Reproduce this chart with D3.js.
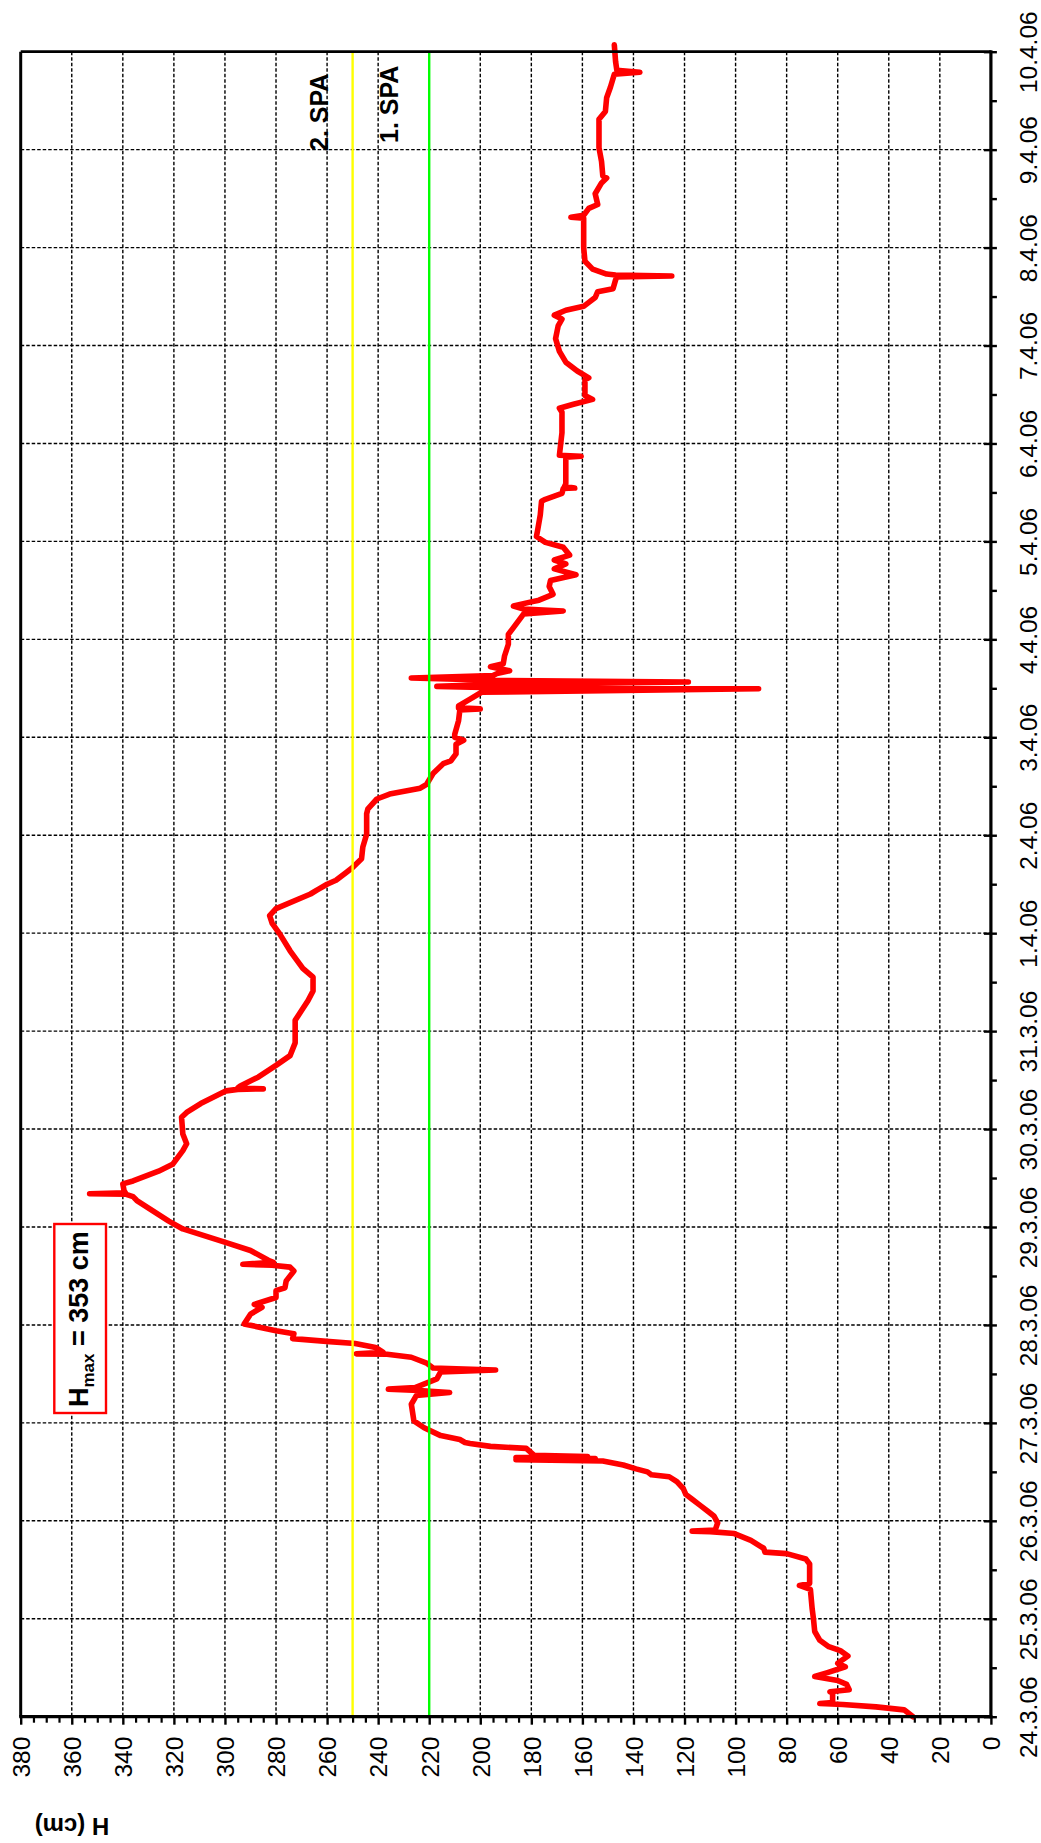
<!DOCTYPE html>
<html><head><meta charset="utf-8">
<script src="https://cdn.jsdelivr.net/npm/d3@7"></script>
<style>html,body{margin:0;padding:0;background:#fff;} svg{display:block;}</style>
</head><body>
<svg id="chart" width="1041" height="1843"></svg>
<script>
// ---- data ----
const dateLabels = ["24.3.06","25.3.06","26.3.06","27.3.06","28.3.06","29.3.06","30.3.06","31.3.06",
  "1.4.06","2.4.06","3.4.06","4.4.06","5.4.06","6.4.06","7.4.06","8.4.06","9.4.06","10.4.06"];
const dayTicks = [0,1,2,3,4,5,6,7,8,9,10,11,12,13,14,15,16,17];
const hTicks = [0,20,40,60,80,100,120,140,160,180,200,220,240,260,280,300,320,340,360,380];
const thresholdNames = ["1. SPA","2. SPA"];
const thresholdH = [220, 250];
const hMaxLabel = 353;
// time in days since 24.3.06 00:00
const levelDays = [0.00,0.07,0.10,0.125,0.135,0.145,0.24,0.255,0.275,0.33,0.37,0.41,0.45,0.51,0.545,0.62,0.675,0.715,0.78,0.87,
  1.00,1.10,1.30,1.34,1.36,1.45,1.56,1.61,1.665,1.68,1.72,1.80,1.87,1.89,1.895,1.905,1.98,
  2.05,2.10,2.16,2.22,2.27,2.33,2.40,2.45,2.47,2.50,2.53,2.57,2.61,2.625,2.635,2.645,2.655,2.67,2.74,2.76,2.79,2.80,2.83,2.87,2.95,
  3.02,3.19,3.28,3.31,3.33,3.345,3.36,3.45,3.52,3.54,3.56,3.61,3.67,3.70,3.705,3.72,3.77,3.81,3.83,3.86,3.91,3.94,3.98,
  4.01,4.11,4.18,4.21,4.28,4.35,4.38,4.45,4.55,4.59,4.61,4.62,4.64,4.66,4.76,4.84,4.98,
  5.06,5.27,5.31,5.335,5.34,5.35,5.37,5.44,5.47,5.57,5.64,5.78,5.85,5.95,
  6.12,6.17,6.26,6.39,6.405,6.41,6.42,6.44,6.53,6.65,6.75,6.88,
  7.11,7.21,7.31,7.41,7.55,7.64,7.82,7.99,
  8.10,8.18,8.25,8.40,8.44,8.50,8.54,8.62,8.67,8.76,8.88,
  9.01,9.22,9.27,9.37,9.42,9.48,9.52,9.63,9.73,9.76,9.83,9.93,9.97,
  10.00,10.03,10.17,10.28,10.29,10.30,10.32,10.39,10.46,10.495,10.51,10.52,10.535,10.565,10.58,10.605,10.63,10.65,10.68,10.72,10.75,10.83,10.95,
  11.05,11.12,11.26,11.29,11.31,11.34,11.38,11.40,11.46,11.54,11.60,11.66,11.72,11.77,11.81,11.86,11.94,11.99,
  12.05,12.12,12.27,12.41,12.43,12.49,12.54,12.545,12.56,12.59,12.86,12.87,12.88,
  13.11,13.32,13.36,13.40,13.45,13.49,13.65,13.67,13.74,13.83,13.94,
  14.07,14.20,14.27,14.31,14.36,14.40,14.49,14.55,14.58,14.67,14.70,14.71,14.72,14.73,14.78,14.86,
  15.00,15.30,15.31,15.33,15.40,15.44,15.55,15.66,15.71,15.73,15.88,
  16.02,16.31,16.39,16.53,16.64,16.77,16.79,16.81,16.90,17.07];
const levelH = [30.5,34,45,58,67,62,62,63,55.5,56.5,60,69,64,57,60,56,59,63.5,67,69,
  69.5,70,70.7,75,71,71,71,72.5,80,88.5,89,94,100.5,110,117,108,107,
  108.5,111,114,117,119.5,120.5,123,126,133,134.5,139,144,152,186,155,186,158,179,182,196,204,206,208,215.5,222,
  226,227,225,212,224,236,225.5,217,215.5,194,218.5,221,227,236.5,248.5,238,241,249,259,273.5,273,280,287,
  292.5,290,285.5,288.5,280,280,276.5,276,273,274.5,281.5,293,281,283,290,299.5,316.5,
  322,334.5,336,339,353,339,339.5,340,336,326,320.5,316.5,315,316.5,
  317,315,309.5,299.5,295,285,295,294,287,280,274.5,272.5,
  272.5,270,267.5,265.5,265.5,269.5,274.5,278.5,
  281.5,282.5,280,266.5,264,260,256.5,252.5,250,246.5,246,
  244.5,244.5,244,240.5,235.5,223.5,221,218.5,214.5,211.5,209.5,209.5,206.5,
  210,210,208.5,208,200,208.5,208.5,204,199.5,91,199,217,199,118.5,192,227,195,193.5,188.5,196,191,190.5,189,
  189,187,183,167.5,183,187,180.5,177,171.5,173,172.5,162.5,171,166.5,171,165,167.5,174.5,
  178,177.5,176.5,176,174.5,168,167.5,163,167,166.5,166.5,160.5,169,
  168,168,169,163.5,156,159,159,157.5,162,166.5,169,
  170.5,169.5,168,171,166.5,159.5,155,154,148,147,146.5,125,147,150.5,156,159,
  159.5,159.5,164.5,159.5,157.5,154,155,152.5,150.5,152,152.5,
  153.5,153.5,151,150.5,149,147.5,137.5,146.5,147,147.5];

// ---- layout ----
const svg = d3.select("#chart");
const FONT = "'Liberation Sans', Arial, Helvetica, sans-serif";
const pL = 20.7, pR = 990.9, pT = 51.7, pB = 1716.7;

const x = d3.scaleLinear().domain([0, 380]).range([pR, pL]);  // H (cm)
const y = d3.scaleLinear().domain([0, 17]).range([pB, pT]);    // days

svg.append("rect").attr("width",1041).attr("height",1843).attr("fill","#fff");

// grid
const grid = svg.append("g").attr("stroke","#000").attr("stroke-width",1.4).attr("stroke-dasharray","3.5,2");
grid.selectAll("line.v").data(hTicks.filter(d => d > 0 && d < 380)).join("line").attr("class","v")
  .attr("x1", d => x(d)).attr("x2", d => x(d)).attr("y1", pT).attr("y2", pB);
grid.selectAll("line.h").data(dayTicks.filter(d => d > 0 && d < 17)).join("line").attr("class","h")
  .attr("y1", d => y(d)).attr("y2", d => y(d)).attr("x1", pL).attr("x2", pR);

// data line
const line = d3.line().x((d,i) => x(levelH[i])).y((d,i) => y(levelDays[i])).curve(d3.curveLinear);
svg.append("path").datum(levelDays).attr("d", line)
  .attr("fill","none").attr("stroke","#ff0000").attr("stroke-width",5.6)
  .attr("stroke-linejoin","round").attr("stroke-linecap","round");

// threshold lines
const thrColors = ["#00ff00", "#ffff00"];
svg.selectAll("line.thr").data(thresholdH).join("line").attr("class","thr")
  .attr("x1", d => x(d)).attr("x2", d => x(d)).attr("y1", pT).attr("y2", pB)
  .attr("stroke", (d,i) => thrColors[i]).attr("stroke-width", 2.4);

// threshold labels
const thrLabelOffset = [31, 25];
const thrLabelY = [143, 151];
svg.selectAll("text.thr").data(thresholdH).join("text").attr("class","thr")
  .attr("transform", (d,i) => `translate(${x(d) - thrLabelOffset[i]},${thrLabelY[i]}) rotate(-90)`)
  .attr("font-family", FONT).attr("font-weight","bold").attr("font-size", 25)
  .attr("fill","#000").text((d,i) => thresholdNames[i]);

// frame
const frame = svg.append("g").attr("stroke","#000");
frame.append("line").attr("x1",pL).attr("x2",pR).attr("y1",pT).attr("y2",pT).attr("stroke-width",2.8);
frame.append("line").attr("x1",pL).attr("x2",pL).attr("y1",pT).attr("y2",pB).attr("stroke-width",3);
frame.append("line").attr("x1",pL-1.5).attr("x2",pR+1.5).attr("y1",pB).attr("y2",pB).attr("stroke-width",3.2);
frame.append("line").attr("x1",pR).attr("x2",pR).attr("y1",pT-1.4).attr("y2",pB+1.6).attr("stroke-width",3.2);

// bottom axis (H)
const minorH = d3.range(0, 381, 5).filter(d => d % 20 !== 0);
svg.append("g").attr("transform",`translate(0,${pB})`)
  .call(d3.axisBottom(x).tickValues(minorH).tickSize(6).tickSizeOuter(0).tickFormat(""))
  .call(g => g.select(".domain").remove())
  .call(g => g.selectAll(".tick line").attr("stroke","#000").attr("stroke-width",2.2));
const gx = svg.append("g").attr("transform",`translate(0,${pB})`)
  .call(d3.axisBottom(x).tickValues(hTicks).tickSize(8).tickSizeOuter(0).tickFormat(d3.format("d")));
gx.select(".domain").remove();
gx.selectAll(".tick line").attr("stroke","#000").attr("stroke-width",2.4);
gx.selectAll(".tick text").attr("x",0).attr("y",0).attr("dy","0.36em")
  .attr("text-anchor","end").attr("transform","translate(0,20) rotate(-90)")
  .attr("font-family",FONT).attr("font-size",24.5).attr("fill","#000");
gx.attr("font-family",null).attr("font-size",null);

// right axis (dates)
const halfDays = dayTicks.slice(0,-1).map(d => d + 0.5);
svg.append("g").attr("transform",`translate(${pR},0)`)
  .call(d3.axisRight(y).tickValues(halfDays).tickSize(6).tickSizeOuter(0).tickFormat(""))
  .call(g => g.select(".domain").remove())
  .call(g => g.selectAll(".tick line").attr("stroke","#000").attr("stroke-width",2.4));
const gy = svg.append("g").attr("transform",`translate(${pR},0)`)
  .call(d3.axisRight(y).tickValues(dayTicks).tickSize(6).tickSizeOuter(0).tickFormat(d => dateLabels[d]));
gy.select(".domain").remove();
gy.selectAll(".tick line").attr("x1",-7).attr("x2",6).attr("stroke","#000").attr("stroke-width",2.4);
gy.selectAll(".tick text").attr("x",0).attr("y",0).attr("dy",0)
  .attr("text-anchor","middle").attr("transform","translate(46,0) rotate(-90)")
  .attr("font-family",FONT).attr("font-size",24.5).attr("fill","#000");
gy.attr("font-family",null).attr("font-size",null);

// axis title (upside down)
svg.append("text").attr("transform","translate(72,1818) rotate(180)")
  .attr("text-anchor","middle").attr("font-family",FONT).attr("font-weight","bold")
  .attr("font-size",24).attr("fill","#000").text("H (cm)");

// Hmax box
svg.append("rect").attr("x",54.3).attr("y",1224).attr("width",51.7).attr("height",189)
  .attr("fill","#fff").attr("stroke","#ff0000").attr("stroke-width",2.4);
const hm = svg.append("text").attr("transform","translate(87.5,1407) rotate(-90)")
  .attr("font-family",FONT).attr("font-weight","bold").attr("font-size",27).attr("fill","#000");
hm.append("tspan").text("H");
hm.append("tspan").attr("font-size",17).attr("dy",6).text("max");
hm.append("tspan").attr("dy",-6).text(` = ${hMaxLabel} cm`);
</script>
</body></html>
